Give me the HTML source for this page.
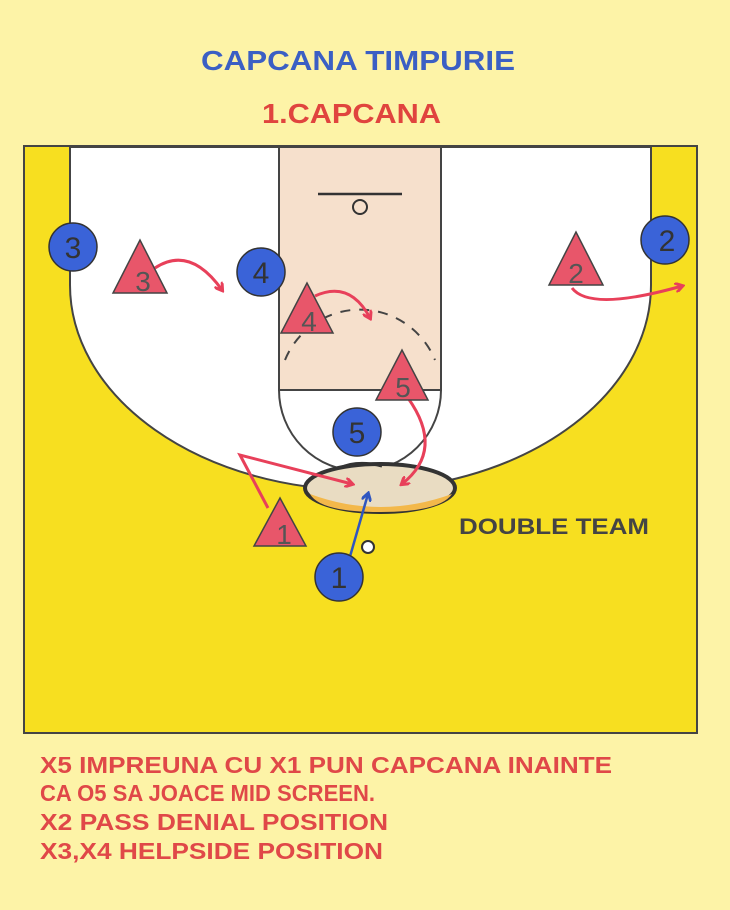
<!DOCTYPE html>
<html><head><meta charset="utf-8"><style>html,body{margin:0;padding:0;background:#fdf3a7}svg{display:block}</style></head>
<body>
<svg width="730" height="910" viewBox="0 0 730 910" xmlns="http://www.w3.org/2000/svg" font-family="Liberation Sans, sans-serif">
<defs>
<marker id="ar" markerWidth="10" markerHeight="10" refX="7" refY="5" orient="auto" markerUnits="userSpaceOnUse"><path d="M0,0 L8,5 L0,10" fill="none" stroke="#e8405a" stroke-width="3"/></marker>
<marker id="ab" markerWidth="10" markerHeight="10" refX="7" refY="5" orient="auto" markerUnits="userSpaceOnUse"><path d="M0,0 L8,5 L0,10" fill="none" stroke="#2f56c0" stroke-width="3"/></marker>
</defs>
<rect width="730" height="910" fill="#fdf3a7"/>
<text x="201" y="70" font-size="28" font-weight="bold" fill="#3b5fc4" textLength="314" lengthAdjust="spacingAndGlyphs">CAPCANA TIMPURIE</text>
<text x="262" y="123" font-size="28" font-weight="bold" fill="#e0443e" textLength="179" lengthAdjust="spacingAndGlyphs">1.CAPCANA</text>
<rect x="24" y="146" width="673" height="587" fill="#f7df20" stroke="#444" stroke-width="2"/>
<path d="M70,147 L651,147 L651,285 A290.5,205 0 0 1 70,285 Z" fill="#fff" stroke="#444" stroke-width="2"/>
<rect x="279" y="147" width="162" height="243" fill="#f6e0cc" stroke="#444" stroke-width="2"/>
<path d="M279,390 A81,81 0 0 0 441,390" fill="none" stroke="#444" stroke-width="2"/>
<path d="M285,360 A81,81 0 0 1 435,360" fill="none" stroke="#444" stroke-width="2" stroke-dasharray="10,9"/>
<line x1="318" y1="194" x2="402" y2="194" stroke="#333" stroke-width="2.5"/>
<ellipse cx="360" cy="207" rx="7" ry="7" fill="none" stroke="#333" stroke-width="2"/>
<ellipse cx="380" cy="488" rx="75" ry="24" fill="#e9dcc2" stroke="#333" stroke-width="4"/>
<path d="M310,494 Q380,520 452,494 Q440,512 380,512 Q320,512 310,494 Z" fill="#f3b84a"/>
<path d="M340,468 Q357,460 382,466" fill="none" stroke="#333" stroke-width="3"/>
<path d="M155,268 Q190,245 222,290" fill="none" stroke="#e8405a" stroke-width="3" marker-end="url(#ar)"/>
<path d="M315,296 Q350,280 370,318" fill="none" stroke="#e8405a" stroke-width="3" marker-end="url(#ar)"/>
<path d="M572,288 Q590,312 682,286" fill="none" stroke="#e8405a" stroke-width="3" marker-end="url(#ar)"/>
<path d="M408,398 Q445,450 402,484" fill="none" stroke="#e8405a" stroke-width="3" marker-end="url(#ar)"/>
<path d="M268,508 L240,455 L352,484" fill="none" stroke="#e8405a" stroke-width="3" marker-end="url(#ar)"/>
<path d="M349,560 L368,494" fill="none" stroke="#2f56c0" stroke-width="2.5" marker-end="url(#ab)"/>
<circle cx="368" cy="547" r="6" fill="#fff" stroke="#333" stroke-width="2"/>
<g fill="#e8566a" stroke="#444" stroke-width="1.5">
<polygon points="140,240 113,293 167,293"/><polygon points="307,283 281,333 333,333"/><polygon points="576,232 549,285 603,285"/><polygon points="402,350 376,400 428,400"/><polygon points="280,498 254,546 306,546"/>
</g>
<g fill="#555" font-size="28" text-anchor="middle">
<text x="143" y="291">3</text><text x="309" y="331">4</text><text x="576" y="283">2</text><text x="403" y="397">5</text><text x="284" y="544">1</text>
</g>
<g fill="#3a63d8" stroke="#333" stroke-width="1.5">
<circle cx="73" cy="247" r="24"/><circle cx="261" cy="272" r="24"/><circle cx="665" cy="240" r="24"/><circle cx="357" cy="432" r="24"/><circle cx="339" cy="577" r="24"/>
</g>
<g fill="#333" font-size="30" text-anchor="middle">
<text x="73" y="258">3</text><text x="261" y="283">4</text><text x="667" y="251">2</text><text x="357" y="443">5</text><text x="339" y="588">1</text>
</g>
<text x="459" y="534" font-size="22" font-weight="bold" fill="#444" textLength="190" lengthAdjust="spacingAndGlyphs">DOUBLE TEAM</text>
<g fill="#e04848" font-size="23" font-weight="bold">
<text x="40" y="773" textLength="572" lengthAdjust="spacingAndGlyphs">X5 IMPREUNA CU X1 PUN CAPCANA INAINTE</text>
<text x="40" y="801" textLength="335" lengthAdjust="spacingAndGlyphs">CA O5 SA JOACE MID SCREEN.</text>
<text x="40" y="830" textLength="348" lengthAdjust="spacingAndGlyphs">X2 PASS DENIAL POSITION</text>
<text x="40" y="859" textLength="343" lengthAdjust="spacingAndGlyphs">X3,X4 HELPSIDE POSITION</text>
</g>
</svg>
</body></html>
